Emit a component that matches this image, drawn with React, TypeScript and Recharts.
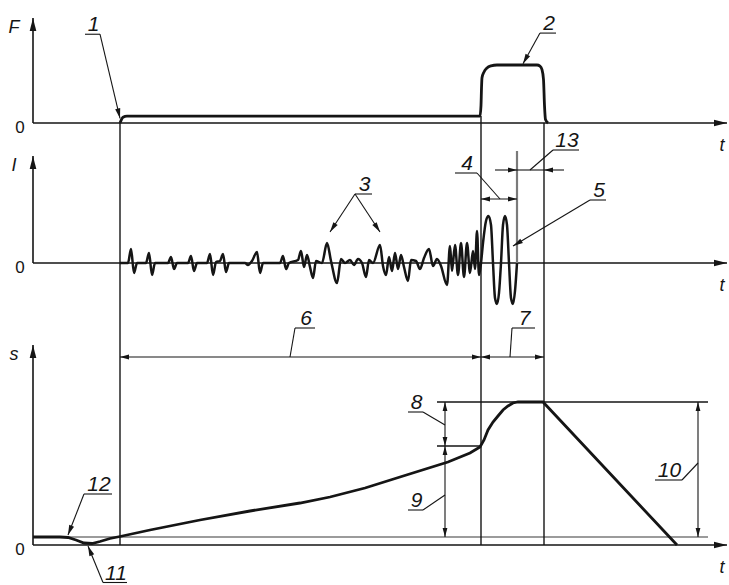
import { LineChart, Line, XAxis, YAxis, ReferenceLine } from "recharts"

const WIDTH = 729
const HEIGHT = 585
const INK = "#151515"
const GREY = "#7a7a7a"
const FONT = "'Liberation Sans', Arial, sans-serif"

// time axis (ms)
const T_MAX = 694
const T_START = 87
const T_WELD = 448
const T_CUT = 484
const T_END = 511

// F - force, % of upset force
const forceSamples: [number, number][] = [
  [87, 0], [90, 10], [94, 12], [447, 12], [448, 30], [448.5, 60], [449, 78], [451, 88],
  [454, 95], [458, 98.5], [464, 100], [504, 100], [507, 98], [509, 92], [510.5, 75],
  [511.5, 30], [512.5, 6], [515, 0],
]

// I - current
const currentSamples: [number, number][] = [
  [87, 0], [95, 0], [98, 14], [101, -10], [104, 0], [113, 0], [116, 10], [119, -12], [122, 0],
  [135, 0], [138, 6], [141, -6], [144, 0], [155, 0], [158, 7], [161, -8], [164, 0],
  [174, 0], [177, 9], [180, -12], [183, 1], [187, 2], [190, 9], [193, -9], [196, 0],
  [212, 0], [215, -2], [219, 2], [224, 11], [227, -10], [230, 0], [247, 0], [250, 7], [253, -6], [256, 0],
  [265, 3], [268, 12], [271, -4], [274, 8], [277, -4], [280, -15], [283, 2], [289, 0],
  [294, 20], [298, 2], [304, -20], [308, 4], [312, 0], [317, 3], [321, -2], [325, 4], [329, 0],
  [333, -14], [336, 3], [340, 0], [347, 18], [350, -3], [353, -12], [356, 6], [359, -8],
  [362, 10], [365, -6], [368, 8], [371, -4], [375, -18], [378, 3], [383, 2], [387, -6],
  [391, 5], [396, 14], [400, -3], [404, 4], [408, -3], [414, -22], [417, 17], [419, -8],
  [422, 18], [425, -12], [428, 20], [431, -14], [434, 20], [437, -10], [440, 12], [442, -6],
  [444, 32], [446, -12], [448, 0],
  // final flash
  [450, 20], [453, 42], [455.5, 47], [458, 38], [460, 0], [462, -35], [464, -41], [466, -30],
  [468, 0], [470, 38], [472, 47], [474, 38], [476, 0], [478, -35], [480, -41], [482, -28], [484, 0],
]

// s - displacement
const dispSamples: [number, number][] = [
  [0, 8], [27, 8], [35, 7.5], [43, 5], [51, 2], [59, 1.5], [67, 3.5], [77, 6.5], [87, 8.5],
  [117, 15], [167, 25], [217, 34], [267, 42], [297, 48], [332, 57], [367, 68], [415, 83],
  [437, 92], [447, 98], [451, 105], [455, 115], [460, 123], [465, 129], [470, 135],
  [475, 139], [480, 142], [485, 143], [510, 143], [644, 0],
]

const S_START = 8
const S_KNEE = 99
const S_PEAK = 143

const forceData = forceSamples.map(([t, v]) => ({ t, v }))
const currentData = currentSamples.map(([t, v]) => ({ t, v }))
const dispData = dispSamples.map(([t, v]) => ({ t, v }))

type Pt = [number, number]

function head(tx: number, ty: number, fx: number, fy: number, len: number, half: number) {
  const d = Math.hypot(tx - fx, ty - fy) || 1
  const ux = (tx - fx) / d
  const uy = (ty - fy) / d
  const bx = tx - ux * len
  const by = ty - uy * len
  return (
    <polygon
      points={`${tx},${ty} ${bx - uy * half},${by + ux * half} ${bx + uy * half},${by - ux * half}`}
      fill={INK}
    />
  )
}

type ArrowOpts = { start?: boolean; end?: boolean; width?: number; color?: string; len?: number; half?: number }

const arrowShape = (o: ArrowOpts) => (p: any) => {
  const { x1, y1, x2, y2 } = p
  const len = o.len ?? 9
  const half = o.half ?? 2.4
  return (
    <g>
      <line x1={x1} y1={y1} x2={x2} y2={y2} stroke={o.color ?? INK} strokeWidth={o.width ?? 1.1} />
      {o.start && head(x1, y1, x2, y2, len, half)}
      {o.end && head(x2, y2, x1, y1, len, half)}
    </g>
  )
}

function arrow(key: string, a: Pt, b: Pt, o: ArrowOpts = {}) {
  return (
    <ReferenceLine
      key={key}
      segment={[{ x: a[0], y: a[1] }, { x: b[0], y: b[1] }]}
      ifOverflow="visible"
      shape={arrowShape(o)}
    />
  )
}

type AxisLabel = { text: string; at: "start" | "end"; dx: number; dy: number; italic?: boolean; size?: number }

const axisShape = (labels: AxisLabel[]) => (p: any) => {
  const { x1, y1, x2, y2 } = p
  return (
    <g>
      <line x1={x1} y1={y1} x2={x2} y2={y2} stroke={INK} strokeWidth={1.6} />
      {head(x2, y2, x1, y1, 13, 3.3)}
      {labels.map((l, i) => (
        <text
          key={i}
          x={(l.at === "end" ? x2 : x1) + l.dx}
          y={(l.at === "end" ? y2 : y1) + l.dy}
          textAnchor="middle"
          dominantBaseline="central"
          fontFamily={FONT}
          fontStyle={l.italic ? "italic" : "normal"}
          fontSize={l.size ?? 18}
          fill={INK}
        >
          {l.text}
        </text>
      ))}
    </g>
  )
}

function axes(name: string, top: number) {
  return [
    <ReferenceLine
      key="ya"
      segment={[{ x: 0, y: 0 }, { x: 0, y: top }]}
      ifOverflow="visible"
      shape={axisShape([
        { text: name, at: "end", dx: -19, dy: 9, italic: true },
        { text: "0", at: "start", dx: -13, dy: 4, size: 17 },
      ])}
    />,
    <ReferenceLine
      key="xa"
      segment={[{ x: 0, y: 0 }, { x: T_MAX, y: 0 }]}
      ifOverflow="visible"
      shape={axisShape([{ text: "t", at: "end", dx: -5, dy: 22, italic: true }])}
    />,
  ]
}

type Callout = { text?: string; from: Pt; to: Pt; side?: number; w?: number; arrow?: boolean }

const calloutShape = (c: Callout) => (p: any) => {
  const { x1, y1, x2, y2 } = p
  const ux = x1 + (c.side ?? 1) * (c.w ?? 16)
  return (
    <g>
      {c.text && <line x1={x1} y1={y1} x2={ux} y2={y1} stroke={INK} strokeWidth={1.1} />}
      {c.text && (
        <text
          x={(x1 + ux) / 2 + 1}
          y={y1 - 3}
          textAnchor="middle"
          fontFamily={FONT}
          fontStyle="italic"
          fontSize={21}
          fill={INK}
        >
          {c.text}
        </text>
      )}
      <line x1={x1} y1={y1} x2={x2} y2={y2} stroke={INK} strokeWidth={1.1} />
      {c.arrow && head(x2, y2, x1, y1, 10, 2.6)}
    </g>
  )
}

function callouts(list: Callout[]) {
  return list.map((c, i) => (
    <ReferenceLine
      key={"c" + i}
      segment={[{ x: c.from[0], y: c.from[1] }, { x: c.to[0], y: c.to[1] }]}
      ifOverflow="visible"
      shape={calloutShape(c)}
    />
  ))
}

const forceCallouts: Callout[] = [
  { text: "1", from: [67, 153], to: [T_START, 8], side: -1, w: 15, arrow: true },
  { text: "2", from: [507, 155], to: [490, 102], side: 1, w: 16, arrow: true },
]

const currentCallouts: Callout[] = [
  { text: "3", from: [322, 69], to: [297, 31], side: 1, w: 17, arrow: true },
  { from: [322, 69], to: [347, 31], arrow: true },
  { text: "4", from: [444, 90], to: [467, 64], side: -1, w: 22 },
  { text: "13", from: [520, 113], to: [497, 93], side: 1, w: 26 },
  { text: "5", from: [557, 63], to: [480, 17], side: 1, w: 16, arrow: true },
]

const dispCallouts: Callout[] = [
  { text: "6", from: [262, 217], to: [257, 188], side: 1, w: 20 },
  { text: "7", from: [479, 217], to: [477, 188], side: 1, w: 23 },
  { text: "8", from: [390, 133], to: [412, 120], side: -1, w: 15 },
  { text: "9", from: [390, 35], to: [412, 50], side: -1, w: 15 },
  { text: "10", from: [649, 65], to: [665, 82], side: -1, w: 27 },
  { text: "12", from: [51, 51], to: [35, 10], side: 1, w: 28, arrow: true },
  { text: "11", from: [70, -37.5], to: [55, -1], side: 1, w: 24, arrow: true },
]

const layer: React.CSSProperties = { position: "absolute", left: 0, top: 0 }

export default function App() {
  return (
    <div style={{ position: "absolute", left: 0, top: 0, width: WIDTH, height: HEIGHT, background: "#fff" }}>
      {/* F panel */}
      <div style={layer}>
        <LineChart width={WIDTH} height={HEIGHT} data={forceData} margin={{ top: 18, right: 2, bottom: 462, left: 33 }}>
          <XAxis dataKey="t" type="number" domain={[0, T_MAX]} hide />
          <YAxis type="number" domain={[0, 181]} hide />
          {axes("F", 181)}
          {callouts(forceCallouts)}
          <Line dataKey="v" type="monotone" stroke={INK} strokeWidth={2.8} dot={false} activeDot={false} isAnimationActive={false} />
        </LineChart>
      </div>

      {/* I panel */}
      <div style={layer}>
        <LineChart width={WIDTH} height={HEIGHT} data={currentData} margin={{ top: 156, right: 2, bottom: 255, left: 33 }}>
          <XAxis dataKey="t" type="number" domain={[0, T_MAX]} hide />
          <YAxis type="number" domain={[-67, 107]} hide />
          {axes("I", 107)}
          {arrow("cut", [T_CUT, 112], [T_CUT, 0], { color: GREY, width: 2.2 })}
          {arrow("d4", [T_WELD, 64], [T_CUT, 64], { start: true, end: true })}
          {arrow("d13a", [462, 93], [T_CUT, 93], { end: true })}
          {arrow("d13b", [T_CUT, 93], [T_END, 93])}
          {arrow("d13c", [531, 93], [T_END, 93], { end: true })}
          {callouts(currentCallouts)}
          <Line dataKey="v" type="monotone" stroke={INK} strokeWidth={2.5} dot={false} activeDot={false} isAnimationActive={false} />
        </LineChart>
      </div>

      {/* s panel */}
      <div style={layer}>
        <LineChart width={WIDTH} height={HEIGHT} data={dispData} margin={{ top: 345, right: 2, bottom: 0, left: 33 }}>
          <XAxis dataKey="t" type="number" domain={[0, T_MAX]} hide />
          <YAxis type="number" domain={[-40, 200]} hide />
          {axes("s", 200)}
          {arrow("base", [0, S_START], [675, S_START], { color: GREY, width: 1.4 })}
          {arrow("peak", [404, S_PEAK], [675, S_PEAK], { width: 1.3 })}
          {arrow("knee", [404, S_KNEE], [T_WELD, S_KNEE], { width: 1.3 })}
          {arrow("g1", [T_START, 0], [T_START, 422], { width: 1.4 })}
          {arrow("g2", [T_WELD, 0], [T_WELD, 429], { width: 1.4 })}
          {arrow("g3", [T_END, 0], [T_END, 422], { width: 1.4 })}
          {arrow("d6", [T_START, 188], [T_WELD, 188], { start: true, end: true })}
          {arrow("d7", [T_WELD, 188], [T_END, 188], { start: true, end: true })}
          {arrow("d8", [412, S_PEAK], [412, S_KNEE], { start: true, end: true })}
          {arrow("d9", [412, S_KNEE], [412, S_START], { start: true, end: true })}
          {arrow("d10", [665, S_PEAK], [665, S_START], { start: true, end: true })}
          {callouts(dispCallouts)}
          <Line dataKey="v" type="linear" stroke={INK} strokeWidth={2.8} dot={false} activeDot={false} isAnimationActive={false} />
        </LineChart>
      </div>
    </div>
  )
}
